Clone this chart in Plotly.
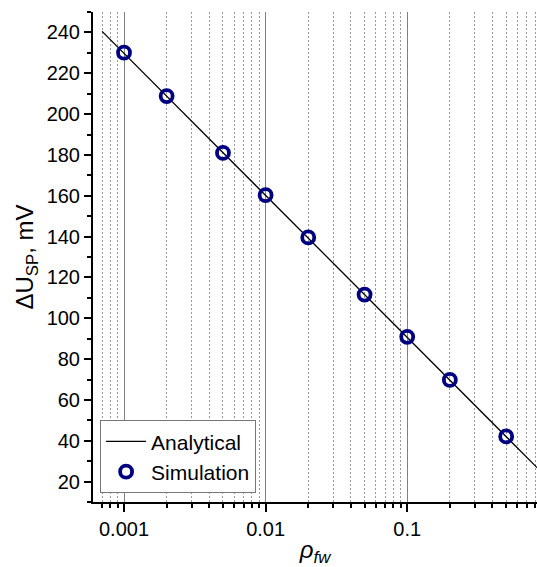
import plotly.graph_objects as go

# Data
rho_sim = [0.001, 0.002, 0.005, 0.01, 0.02, 0.05, 0.1, 0.2, 0.5]
du_sim = [230.1, 208.8, 181.0, 160.3, 139.6, 111.6, 90.9, 69.8, 42.1]

rho_ana = [0.0007, 0.83]
du_ana = [240.5, 26.7]

major_x = [0.001, 0.01, 0.1]
major_x_text = ["0.001", "0.01", "0.1"]
minor_x = [0.0007, 0.0008, 0.0009,
           0.002, 0.003, 0.004, 0.005, 0.006, 0.007, 0.008, 0.009,
           0.02, 0.03, 0.04, 0.05, 0.06, 0.07, 0.08, 0.09,
           0.2, 0.3, 0.4, 0.5, 0.6, 0.7, 0.8]
y_ticks = list(range(20, 241, 20))

FONT = "Liberation Sans, Arial, sans-serif"

fig = go.Figure()
fig.add_trace(go.Scatter(
    x=rho_ana, y=du_ana, mode="lines", name="Analytical",
    line=dict(color="black", width=1.3),
))
fig.add_trace(go.Scatter(
    x=rho_sim, y=du_sim, mode="markers", name="Simulation",
    marker=dict(symbol="circle-open", size=12, color="#000080",
                line=dict(color="#000080", width=3.8)),
))

fig.update_layout(
    width=537, height=567,
    margin=dict(l=93, r=0, t=12, b=65),
    plot_bgcolor="white", paper_bgcolor="white",
    font=dict(family=FONT, size=20, color="black"),
    showlegend=True,
    legend=dict(
        x=0.016, y=0.018, xanchor="left", yanchor="bottom",
        bgcolor="white", bordercolor="#777", borderwidth=1,
        font=dict(size=21, family=FONT),
        itemwidth=40, tracegroupgap=0,
    ),
    xaxis=dict(
        type="log", range=[-3.219, -0.0834],
        tickvals=major_x, ticktext=major_x_text,
        ticks="outside", ticklen=8, tickwidth=2, tickcolor="black",
        showline=True, linecolor="black", linewidth=2,
        showgrid=True, gridcolor="#808080", gridwidth=1,
        zeroline=False,
        tickfont=dict(size=20),
        minor=dict(tickvals=minor_x, ticks="outside", ticklen=4,
                   tickwidth=1.5, tickcolor="black",
                   showgrid=True, gridcolor="#999999", gridwidth=1,
                   griddash="2px,2px"),
        title=dict(text="<i>ρ<sub>fw</sub></i>", font=dict(size=24), standoff=10),
    ),
    yaxis=dict(
        range=[10, 250],
        tickvals=y_ticks,
        ticks="outside", ticklen=7, tickwidth=2, tickcolor="black",
        showline=True, linecolor="black", linewidth=2,
        showgrid=False, zeroline=False,
        tickfont=dict(size=20),
        minor=dict(dtick=10, tick0=0, ticks="outside", ticklen=4,
                   tickwidth=1.5, tickcolor="black", showgrid=False),
        title=dict(text="ΔU<sub>SP</sub>, mV", font=dict(size=24), standoff=6),
    ),
)

fig.write_html("out.html")
